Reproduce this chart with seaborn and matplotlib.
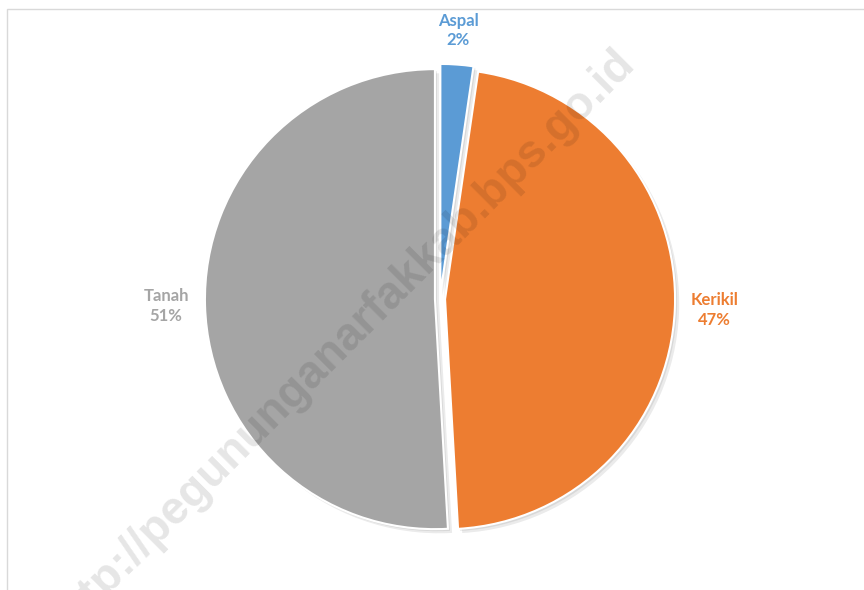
import numpy as np
import seaborn as sns
import matplotlib.pyplot as plt
import matplotlib.patheffects as pe
from matplotlib.patches import Rectangle

# -------------------------------------------------------------------
# Data
# -------------------------------------------------------------------
categories = ["Aspal", "Kerikil", "Tanah"]
shares = [2.3, 46.8, 50.9]
pct_labels = ["2%", "47%", "51%"]
colors = ["#5B9BD5", "#ED7D31", "#A5A5A5"]
watermark = "http://pegununganarfakkab.bps.go.id"

# -------------------------------------------------------------------
# Figure
# -------------------------------------------------------------------
sns.set_theme(style="white")
plt.rcParams["font.family"] = ["Lato", "DejaVu Sans"]

fig = plt.figure(figsize=(8.64, 5.90), dpi=100)
ax = fig.add_axes([0, 0, 1, 1])

# light frame of the chart area
fig.patches.append(Rectangle((7 / 864, -0.2), 1.2, 1.2 - 9 / 590,
                             transform=fig.transFigure, fill=False,
                             edgecolor="#D9D9D9", linewidth=1.0))

wedges, _ = ax.pie(
    shares,
    colors=colors,
    startangle=90,
    counterclock=False,
    explode=[0.022] * len(shares),
    radius=1.0,
    wedgeprops={"edgecolor": "white", "linewidth": 1.5},
)

# soft shadow like the office chart
for w in wedges:
    w.set_path_effects([
        pe.SimplePatchShadow(offset=(3, -3), shadow_rgbFace="black", alpha=0.08),
        pe.SimplePatchShadow(offset=(1.5, -1.5), shadow_rgbFace="black", alpha=0.08),
        pe.Normal(),
    ])

# data labels outside each slice
for w, cat, pct, col in zip(wedges, categories, pct_labels, colors):
    theta = np.deg2rad((w.theta1 + w.theta2) / 2)
    cx, cy = w.center
    dist = 1.07
    x = cx + dist * np.cos(theta)
    y = cy + dist * np.sin(theta)
    c, s = np.cos(theta), np.sin(theta)
    if abs(c) < 0.4:
        ha = "center"
        va = "bottom" if s > 0 else "top"
    else:
        ha = "left" if c > 0 else "right"
        va = "center"
    ax.text(x, y, f"{cat}\n{pct}", color=col, fontsize=12, fontweight="bold",
            ha=ha, va=va, multialignment="center", linespacing=1.3)

# map the pie onto the canvas (centre at ~ (440, 299) px, radius ~230 px)
r_px = 230
cx_px, cy_px = 440, 299
ax.set_xlim(-cx_px / r_px, (864 - cx_px) / r_px)
ax.set_ylim(-(590 - cy_px) / r_px, cy_px / r_px)
ax.set_aspect("auto")
ax.axis("off")

# watermark
fig.text(628 / 864, 1 - 56 / 590, watermark, rotation=45,
         rotation_mode="anchor", ha="right", va="center",
         fontsize=33, fontweight="bold", family="Liberation Sans",
         color="black", alpha=0.1)

plt.savefig("out.png", dpi=100)
